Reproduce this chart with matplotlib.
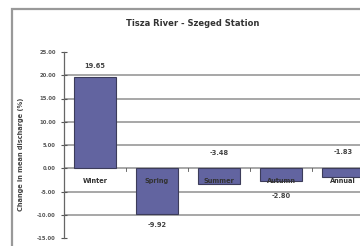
import matplotlib.pyplot as plt
from matplotlib.patches import Rectangle
import numpy as np

seasons = ['Winter', 'Spring', 'Summer', 'Autumn', 'Annual']
change = [19.65, -9.92, -3.48, -2.80, -1.83]
value_labels = ['19.65', '-9.92', '-3.48', '-2.80', '-1.83']
label_y = [21.9, -12.1, 3.2, -6.0, 3.6]
yticks = [25, 20, 15, 10, 5, 0, -5, -10, -15]

fig = plt.figure(figsize=(3.6, 2.46), dpi=100)

# outer chart frame (runs off the right/bottom like the scan)
fig.patches.append(Rectangle((12/360, -0.2), 1.2, (246-9)/246 + 0.2,
                             transform=fig.transFigure, fill=False,
                             edgecolor='#999999', linewidth=1.6))

ax = fig.add_axes([64/360, 8/246, (374-64)/360, (238-52)/246])
x = np.arange(len(seasons))
ax.bar(x, change, width=0.68, color='#6264a0', edgecolor='#3c3c5a',
       linewidth=0.8, zorder=3)

for v in [20, 15, 10, 5, 0, -5, -10]:
    ax.axhline(v, color='#a0a0a0', linewidth=1.3, zorder=1)

ax.set_xlim(-0.5, 4.5)
ax.set_ylim(-15, 25)
ax.set_yticks(yticks)
ax.set_yticklabels(['%.2f' % t for t in yticks], fontsize=3.8,
                   fontweight='bold', color='#555555')
ax.tick_params(axis='y', direction='inout', length=4, width=0.8,
               color='#555555', pad=4)
ax.set_xticks([])
for s in ['top', 'right', 'bottom']:
    ax.spines[s].set_visible(False)
ax.spines['left'].set_color('#666666')
ax.spines['left'].set_linewidth(0.9)

# small category separator ticks on zero line
for b in x[:-1] + 0.5:
    ax.plot([b, b], [0, -0.6], color='#555555', linewidth=0.6, zorder=4)

for i, s in enumerate(seasons):
    ax.text(x[i], -2.8, s, ha='center', va='center', fontsize=4.8,
            fontweight='bold', color='#333333', zorder=5)

for i, lab in enumerate(value_labels):
    ax.text(x[i], label_y[i], lab, ha='center', va='center', fontsize=4.8,
            fontweight='bold', color='#444444', zorder=5)

ax.set_ylabel('Change in mean discharge (%)', fontsize=4.8,
              fontweight='bold', color='#444444')
ax.yaxis.set_label_coords(-0.13, 0.45)

fig.text(193/360, 1 - 24/246, 'Tisza River - Szeged Station', ha='center',
         va='center', fontsize=6, fontweight='bold', color='#333333')

fig.savefig('out.png', dpi=100)
